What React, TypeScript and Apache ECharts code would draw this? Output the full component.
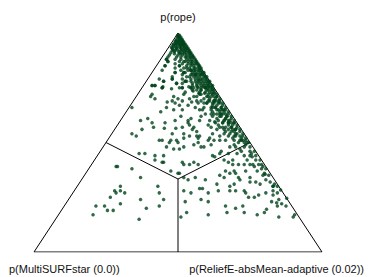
import React, { useEffect, useRef } from "react";
import * as echarts from "echarts";

// Each point: [p(rope), p(ReliefE-absMean-adaptive)]; p(MultiSURFstar) = 1 - both
const apexPoints: number[][] = [
  [0.99, 0.01], [0.99, 0.005],
  [0.985, 0.005], [0.985, 0.01],
  [0.98, 0.02], [0.98, 0.01], [0.98, 0.015],
  [0.97, 0.03], [0.97, 0.02], [0.97, 0.01], [0.97, 0.025],
  [0.965, 0.01], [0.965, 0.02], [0.965, 0.03],
  [0.96, 0.04], [0.96, 0.03], [0.96, 0.02], [0.96, 0.01], [0.96, 0.035],
  [0.955, 0.015], [0.955, 0.025], [0.955, 0.04],
  [0.95, 0.05], [0.95, 0.04], [0.95, 0.03], [0.95, 0.02], [0.95, 0.01], [0.95, 0.045], [0.95, 0.035],
  [0.945, 0.01], [0.945, 0.02], [0.945, 0.035], [0.945, 0.045],
  [0.94, 0.06], [0.94, 0.05], [0.94, 0.04], [0.94, 0.03], [0.94, 0.015],
  [0.935, 0.01], [0.935, 0.025], [0.935, 0.04], [0.935, 0.055],
  [0.93, 0.07], [0.93, 0.065], [0.93, 0.055], [0.93, 0.045], [0.93, 0.03], [0.93, 0.015],
  [0.925, 0.02], [0.925, 0.035], [0.925, 0.05], [0.925, 0.065],
  [0.92, 0.08], [0.92, 0.07], [0.92, 0.06], [0.92, 0.05], [0.92, 0.03], [0.92, 0.02],
  [0.915, 0.03], [0.915, 0.045], [0.915, 0.065], [0.915, 0.08],
  [0.91, 0.09], [0.91, 0.085], [0.91, 0.075], [0.91, 0.06], [0.91, 0.05], [0.91, 0.02],
  [0.905, 0.035], [0.905, 0.055], [0.905, 0.07], [0.905, 0.09],
  [0.9, 0.1], [0.9, 0.09], [0.9, 0.08], [0.9, 0.065], [0.9, 0.05], [0.9, 0.02],
  [0.89, 0.11], [0.89, 0.105], [0.89, 0.095], [0.89, 0.085], [0.89, 0.065], [0.89, 0.05], [0.89, 0.02],
  [0.88, 0.12], [0.88, 0.11], [0.88, 0.1], [0.88, 0.09], [0.88, 0.07], [0.88, 0.05], [0.88, 0.02],
  [0.87, 0.13], [0.87, 0.125], [0.87, 0.115], [0.87, 0.1], [0.87, 0.09], [0.87, 0.07], [0.87, 0.03],
  [0.86, 0.14], [0.86, 0.13], [0.86, 0.12], [0.86, 0.105], [0.86, 0.085], [0.86, 0.06],
  [0.85, 0.15], [0.85, 0.145], [0.85, 0.13], [0.85, 0.12], [0.85, 0.105], [0.85, 0.08], [0.85, 0.03],
  [0.84, 0.16], [0.84, 0.15], [0.84, 0.135], [0.84, 0.12], [0.84, 0.1], [0.84, 0.07],
  [0.83, 0.165], [0.83, 0.155], [0.83, 0.14], [0.83, 0.12], [0.83, 0.095], [0.83, 0.03], [0.83, 0.13],
  [0.82, 0.18], [0.82, 0.17], [0.82, 0.16], [0.82, 0.14], [0.82, 0.115], [0.82, 0.08], [0.82, 0.11],
  [0.81, 0.185], [0.81, 0.175], [0.81, 0.16], [0.81, 0.14], [0.81, 0.11], [0.81, 0.155],
  [0.8, 0.2], [0.8, 0.19], [0.8, 0.175], [0.8, 0.155], [0.8, 0.13], [0.8, 0.08],
  [0.79, 0.205], [0.79, 0.19], [0.79, 0.175], [0.79, 0.15], [0.79, 0.12], [0.79, 0.085], [0.79, 0.04],
  [0.78, 0.22], [0.78, 0.21], [0.78, 0.19], [0.78, 0.17], [0.78, 0.14], [0.78, 0.135], [0.78, 0.06],
  [0.77, 0.225], [0.77, 0.21], [0.77, 0.19], [0.77, 0.165], [0.77, 0.13], [0.77, 0.11],
  [0.76, 0.24], [0.76, 0.225], [0.76, 0.21], [0.76, 0.185], [0.76, 0.04], [0.76, 0.03],
  [0.75, 0.245], [0.75, 0.23], [0.75, 0.205], [0.75, 0.18], [0.75, 0.14], [0.75, 0.17], [0.75, 0.07], [0.75, 0.22],
  [0.88, 0.02], [0.85, 0.03], [0.87, 0.03],
];

const ropePoints: number[][] = [
  [0.66, 0.01], [0.6, 0.07], [0.61, 0.09], [0.59, 0.115], [0.57, 0.13], [0.56, 0.095], [0.54, 0.07], [0.53, 0.09],
  [0.71, 0.05], [0.7, 0.07], [0.76, 0.04], [0.78, 0.06], [0.75, 0.07],
  [0.71, 0.13], [0.69, 0.135], [0.66, 0.13], [0.65, 0.16], [0.59, 0.16], [0.6, 0.19], [0.62, 0.2],
  [0.57, 0.23], [0.59, 0.24], [0.61, 0.24], [0.57, 0.27], [0.54, 0.25], [0.54, 0.21],
  [0.79, 0.085], [0.77, 0.11], [0.75, 0.14], [0.78, 0.135], [0.73, 0.16], [0.75, 0.17], [0.71, 0.2],
  [0.69, 0.22], [0.72, 0.22], [0.66, 0.23], [0.65, 0.26], [0.68, 0.26], [0.63, 0.3], [0.6, 0.275],
  [0.58, 0.315], [0.595, 0.33], [0.63, 0.33], [0.56, 0.355], [0.57, 0.37], [0.55, 0.41], [0.59, 0.4],
  [0.61, 0.36], [0.65, 0.33], [0.66, 0.3], [0.69, 0.28], [0.75, 0.22], [0.785, 0.18], [0.81, 0.155],
  [0.83, 0.13], [0.82, 0.11], [0.85, 0.08], [0.82, 0.08],
  [0.755, 0.19], [0.755, 0.21], [0.755, 0.23],
  [0.74, 0.195], [0.74, 0.21], [0.74, 0.235], [0.74, 0.25],
  [0.725, 0.21], [0.725, 0.23], [0.725, 0.255], [0.725, 0.265],
  [0.71, 0.21], [0.71, 0.25], [0.71, 0.27], [0.71, 0.28],
  [0.69, 0.235], [0.69, 0.265], [0.69, 0.28], [0.69, 0.295],
  [0.68, 0.23], [0.68, 0.26], [0.68, 0.28], [0.68, 0.3],
  [0.66, 0.26], [0.66, 0.285], [0.66, 0.3], [0.66, 0.32],
  [0.65, 0.25], [0.65, 0.29], [0.65, 0.315], [0.65, 0.335],
  [0.63, 0.28], [0.63, 0.31], [0.63, 0.335], [0.63, 0.35],
  [0.62, 0.27], [0.62, 0.31], [0.62, 0.34], [0.62, 0.36],
  [0.6, 0.31], [0.6, 0.34], [0.6, 0.36], [0.6, 0.375],
  [0.59, 0.335], [0.59, 0.36], [0.59, 0.38], [0.59, 0.39],
  [0.57, 0.33], [0.57, 0.36], [0.57, 0.38], [0.57, 0.4],
  [0.56, 0.38], [0.56, 0.41], [0.56, 0.42],
  [0.54, 0.35], [0.54, 0.39], [0.54, 0.41], [0.54, 0.43],
  [0.53, 0.38], [0.53, 0.41], [0.53, 0.435], [0.53, 0.45],
  [0.51, 0.37], [0.51, 0.41], [0.51, 0.44], [0.51, 0.465],
  [0.53, 0.3], [0.53, 0.31], [0.52, 0.35],
  [0.76, 0.03], [0.755, 0.07], [0.745, 0.105], [0.75, 0.13], [0.755, 0.16], [0.735, 0.185], [0.72, 0.05],
  [0.685, 0.12], [0.68, 0.15], [0.67, 0.17], [0.65, 0.19], [0.67, 0.2], [0.685, 0.205], [0.64, 0.12],
  [0.6, 0.235], [0.565, 0.17], [0.565, 0.21], [0.58, 0.25], [0.56, 0.27], [0.55, 0.29], [0.51, 0.22],
  [0.52, 0.26], [0.53, 0.275], [0.52, 0.31], [0.72, 0.16], [0.7, 0.15], [0.69, 0.17], [0.7, 0.19],
  [0.51, 0.18], [0.51, 0.19], [0.5, 0.22], [0.48, 0.22], [0.51, 0.24], [0.47, 0.25], [0.47, 0.27],
  [0.45, 0.14], [0.45, 0.16], [0.44, 0.2], [0.44, 0.23], [0.42, 0.21], [0.41, 0.24], [0.41, 0.245],
  [0.37, 0.29], [0.36, 0.32], [0.36, 0.325],
];

// dense band hugging the rope/ReliefE edge
const edgeBandPoints: number[][] = [
  [0.89, 0.1], [0.89, 0.08], [0.87, 0.11], [0.87, 0.085], [0.86, 0.135], [0.86, 0.115],
  [0.84, 0.155], [0.84, 0.14], [0.84, 0.11], [0.83, 0.16], [0.83, 0.145], [0.83, 0.13],
  [0.82, 0.175], [0.82, 0.15], [0.81, 0.18], [0.81, 0.17], [0.81, 0.145],
  [0.8, 0.195], [0.8, 0.165], [0.8, 0.14], [0.79, 0.2], [0.79, 0.185], [0.79, 0.165],
  [0.78, 0.215], [0.78, 0.2], [0.78, 0.18], [0.78, 0.155], [0.77, 0.22], [0.77, 0.2], [0.77, 0.18],
  [0.76, 0.235], [0.76, 0.22], [0.76, 0.2], [0.76, 0.17], [0.75, 0.24], [0.75, 0.22], [0.75, 0.195],
  [0.74, 0.255], [0.74, 0.245], [0.74, 0.23], [0.74, 0.21], [0.74, 0.18],
  [0.73, 0.26], [0.73, 0.245], [0.73, 0.23], [0.73, 0.21],
  [0.72, 0.275], [0.72, 0.26], [0.72, 0.245], [0.72, 0.215],
  [0.71, 0.28], [0.71, 0.26], [0.71, 0.245],
  [0.7, 0.295], [0.7, 0.28], [0.7, 0.26], [0.7, 0.24],
  [0.69, 0.3], [0.69, 0.285], [0.69, 0.26],
  [0.68, 0.315], [0.68, 0.305], [0.68, 0.285], [0.68, 0.25],
  [0.67, 0.32], [0.67, 0.3], [0.67, 0.285],
  [0.66, 0.335], [0.66, 0.32], [0.66, 0.29],
  [0.65, 0.34], [0.65, 0.325], [0.65, 0.31],
  [0.64, 0.355], [0.64, 0.34], [0.64, 0.325], [0.64, 0.3],
  [0.63, 0.36], [0.63, 0.34], [0.63, 0.32],
  [0.62, 0.375], [0.62, 0.36], [0.62, 0.335],
  [0.61, 0.38], [0.61, 0.36], [0.61, 0.33],
  [0.6, 0.395], [0.6, 0.38], [0.6, 0.36],
  [0.59, 0.4], [0.59, 0.38], [0.59, 0.36],
  [0.58, 0.415], [0.58, 0.4], [0.58, 0.385], [0.58, 0.35],
  [0.57, 0.42], [0.57, 0.4],
  [0.56, 0.435], [0.56, 0.42], [0.56, 0.395],
  [0.55, 0.44], [0.55, 0.42], [0.55, 0.39],
  [0.54, 0.455], [0.54, 0.435],
  [0.53, 0.46], [0.53, 0.43],
  [0.52, 0.475], [0.52, 0.46], [0.52, 0.43],
  [0.51, 0.48], [0.51, 0.46],
  [0.5, 0.495], [0.5, 0.48], [0.5, 0.46],
  [0.48, 0.51], [0.48, 0.49],
  [0.46, 0.535], [0.46, 0.52], [0.46, 0.49],
  [0.44, 0.55], [0.44, 0.53],
  [0.42, 0.575], [0.42, 0.56],
  [0.4, 0.59], [0.4, 0.56],
  [0.38, 0.615], [0.38, 0.6],
  [0.35, 0.64], [0.35, 0.62],
  [0.3, 0.695], [0.3, 0.68],
];

const rightPoints: number[][] = [
  [0.5, 0.25], [0.48, 0.28], [0.49, 0.31], [0.5, 0.32], [0.48, 0.34], [0.48, 0.35], [0.51, 0.35],
  [0.49, 0.37], [0.51, 0.39], [0.48, 0.44], [0.49, 0.45], [0.48, 0.46], [0.51, 0.47], [0.49, 0.49],
  [0.5, 0.49], [0.46, 0.42], [0.45, 0.45], [0.45, 0.48], [0.47, 0.48], [0.44, 0.51], [0.45, 0.53],
  [0.435, 0.54], [0.42, 0.53], [0.4, 0.53], [0.4, 0.55], [0.39, 0.57], [0.4, 0.58], [0.39, 0.6],
  [0.37, 0.59], [0.36, 0.62], [0.355, 0.625], [0.44, 0.4], [0.435, 0.41], [0.45, 0.42], [0.42, 0.45],
  [0.41, 0.47], [0.42, 0.48], [0.4, 0.49], [0.4, 0.51], [0.37, 0.55], [0.4, 0.32], [0.4, 0.34],
  [0.41, 0.35], [0.4, 0.37], [0.41, 0.31],
  [0.37, 0.48], [0.36, 0.5], [0.37, 0.51], [0.36, 0.52], [0.34, 0.54], [0.33, 0.55], [0.34, 0.58],
  [0.32, 0.59], [0.32, 0.61], [0.31, 0.63], [0.33, 0.64], [0.32, 0.66], [0.3, 0.68], [0.31, 0.68],
  [0.28, 0.69], [0.27, 0.71], [0.283, 0.715], [0.26, 0.7], [0.35, 0.47], [0.34, 0.49], [0.31, 0.48],
  [0.3, 0.53], [0.31, 0.54], [0.28, 0.56], [0.28, 0.59], [0.27, 0.6], [0.25, 0.62], [0.25, 0.64],
  [0.26, 0.65], [0.27, 0.67], [0.23, 0.71], [0.24, 0.73], [0.22, 0.75], [0.21, 0.74], [0.21, 0.77],
  [0.18, 0.71], [0.17, 0.69], [0.34, 0.35], [0.33, 0.37], [0.28, 0.38], [0.27, 0.41], [0.23, 0.41],
  [0.18, 0.44], [0.29, 0.43], [0.29, 0.44], [0.27, 0.47], [0.23, 0.49], [0.24, 0.46], [0.28, 0.5],
  [0.28, 0.54], [0.21, 0.56], [0.18, 0.58], [0.2, 0.6], [0.18, 0.64], [0.21, 0.62], [0.17, 0.52],
  [0.34, 0.39], [0.33, 0.43], [0.16, 0.43], [0.195, 0.71], [0.16, 0.77], [0.16, 0.82], [0.17, 0.82],
  [0.245, 0.755], [0.225, 0.73],
];

const leftPoints: number[][] = [
  [0.39, 0.09], [0.39, 0.095], [0.38, 0.15], [0.34, 0.2], [0.3, 0.15], [0.28, 0.16], [0.28, 0.14],
  [0.27, 0.15], [0.27, 0.18], [0.25, 0.14], [0.3, 0.28], [0.27, 0.3], [0.22, 0.19], [0.24, 0.25],
  [0.24, 0.33], [0.21, 0.14], [0.21, 0.11], [0.19, 0.16], [0.19, 0.18], [0.21, 0.33], [0.2, 0.29],
  [0.17, 0.12], [0.15, 0.29],
];

const topLabel = "p(rope)";
const leftLabel = "p(MultiSURFstar (0.0))";
const rightLabel = "p(ReliefE-absMean-adaptive (0.02))";

// ternary -> cartesian (bottom-left = MultiSURFstar, bottom-right = ReliefE, top = rope)
const toXY = (p: number[]) => [p[1] + p[0] / 2, p[0]];

const triangle = [[0, 0], [1, 0], [0.5, 1], [0, 0]];
const centre = [0.5, 1 / 3];
const dividers = [
  [centre, [0.25, 0.5]],
  [centre, [0.75, 0.5]],
  [centre, [0.5, 0]],
];

export default function App() {
  const ref = useRef<HTMLDivElement>(null);
  useEffect(() => {
    document.body.style.margin = "0";
    if (!ref.current) return;
    const chart = echarts.init(ref.current, undefined, { renderer: "svg" });
    const allPoints = [...apexPoints, ...ropePoints, ...edgeBandPoints, ...rightPoints, ...leftPoints].map(toXY);
    const lineStyle = { color: "#000", width: 1 };
    const font = { fontFamily: "Liberation Sans", fontSize: 11, fill: "#111" };
    chart.setOption({
      animation: false,
      grid: { left: 34, top: 33, width: 288, height: 219 },
      xAxis: { type: "value", min: 0, max: 1, show: false },
      yAxis: { type: "value", min: 0, max: 1, show: false },
      series: [
        {
          type: "line",
          data: triangle,
          symbol: "none",
          lineStyle,
          silent: true,
          z: 1,
        },
        ...dividers.map((d) => ({
          type: "line",
          data: d,
          symbol: "none",
          lineStyle,
          silent: true,
          z: 1,
        })),
        {
          type: "scatter",
          data: allPoints,
          symbol: "circle",
          symbolSize: 3.5,
          itemStyle: { color: "#00441b" },
          z: 3,
        },
      ],
      graphic: [
        {
          type: "text",
          x: 178,
          y: 11,
          style: { ...font, text: topLabel, align: "center" },
        },
        {
          type: "text",
          x: 9,
          y: 263,
          style: { ...font, text: leftLabel },
        },
        {
          type: "text",
          x: 364,
          y: 263,
          style: { ...font, text: rightLabel, align: "right" },
        },
      ],
    });
    return () => chart.dispose();
  }, []);
  return <div ref={ref} style={{ width: 369, height: 277 }} />;
}
